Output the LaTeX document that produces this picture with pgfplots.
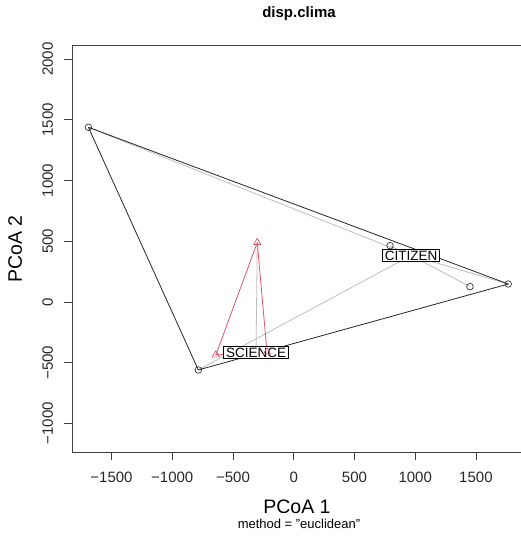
\documentclass[border=0pt]{standalone}
\usepackage{fontspec}
\setmainfont{Liberation Sans}
\usepackage{pgfplots}
\pgfplotsset{compat=1.18}
\definecolor{rred}{HTML}{DF536B}
\definecolor{rgray}{HTML}{BEBEBE}
\begin{document}
\begin{tikzpicture}
\begin{axis}[
  scale only axis, width=449pt, height=407pt,
  xmin=-1825, xmax=1871, ymin=-1236, ymax=2117,
  axis line style={draw=none},
  tick align=outside, major tick length=8pt,
  xtick pos=left, ytick pos=left,
  xtick={-1500,-1000,-500,0,500,1000,1500},
  xticklabels={−1500,−1000,−500,0,500,1000,1500},
  ytick={-1000,-500,0,500,1000,1500,2000},
  yticklabels={−1000,−500,0,500,1000,1500,2000},
  tick style={black!75, line width=0.8pt},
  ticklabel style={font=\fontsize{15}{18}\selectfont, text=black!85},
  xticklabel style={anchor=base}, xticklabel shift=22pt,
  yticklabel style={rotate=90, anchor=base}, yticklabel shift=11pt,
  clip=false,
]
% segments to centroids
\addplot[rgray, line width=0.8pt] coordinates {(-1690,1439) (966,383)};
\addplot[rgray, line width=0.8pt] coordinates {(-785,-560) (966,383)};
\addplot[rgray, line width=0.8pt] coordinates {(1766,148) (966,383)};
\addplot[rgray, line width=0.8pt] coordinates {(793,464) (966,383)};
\addplot[rgray, line width=0.8pt] coordinates {(1451,126) (966,383)};
\addplot[rgray, line width=0.8pt] coordinates {(-300,490) (-310,-416)};
\addplot[rgray, line width=0.8pt] coordinates {(-641,-437) (-310,-416)};
\addplot[rgray, line width=0.8pt] coordinates {(-220,-412) (-310,-416)};
% hulls
\addplot[black!85, line width=0.8pt] coordinates {(-1690,1439) (-785,-560) (1766,148) (-1690,1439)};
\addplot[rred, line width=0.8pt] coordinates {(-300,490) (-641,-437) (-220,-412) (-300,490)};
% points
\addplot[only marks, mark=o, mark size=3.3pt, black!80, mark options={line width=0.7pt}] coordinates {(-1690,1439) (-785,-560) (1766,148) (793,464) (1451,126)};
\addplot[only marks, mark=triangle, mark size=4.2pt, rred, mark options={line width=0.7pt}] coordinates {(-300,490) (-641,-437) (-220,-412)};
% centroid labels
\node[draw=black, fill=white, line width=0.7pt, inner xsep=2.5pt, inner ysep=1.5pt, font=\fontsize{13.5}{16}\selectfont] at (axis cs:-310,-416) {SCIENCE};
\node[draw=black, fill=white, line width=0.7pt, inner xsep=2.5pt, inner ysep=1.5pt, font=\fontsize{13.5}{16}\selectfont] at (axis cs:966,383) {CITIZEN};
\end{axis}
\draw[black!75, line width=0.9pt] (449pt,407pt) -- (0pt,407pt) -- (0pt,0pt) -- (449pt,0pt);
\node[anchor=base, font=\bfseries\fontsize{15}{18}\selectfont] at (227pt,434pt) {disp.clima};
\node[anchor=base, font=\fontsize{19.5}{23}\selectfont] at (225pt,-61pt) {PCoA 1};
\node[anchor=base, font=\fontsize{13}{15}\selectfont] at (227pt,-76pt) {method = "euclidean"};
\node[anchor=base, rotate=90, font=\fontsize{19.5}{23}\selectfont] at (-50pt,203pt) {PCoA 2};
\pgfresetboundingbox
\path (-72pt,-84pt) rectangle (449pt,452pt);
\end{tikzpicture}
\end{document}
